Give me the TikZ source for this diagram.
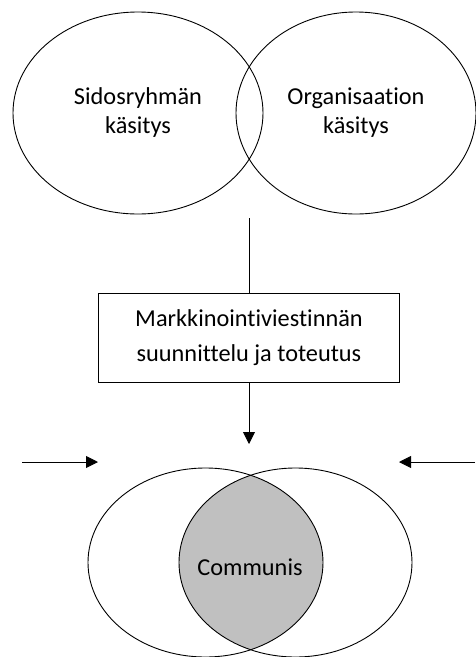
\documentclass[tikz,border=0pt]{standalone}
\usepackage{fontspec}
\setmainfont{Carlito}[Ligatures=NoCommon]
\usetikzlibrary{shapes.geometric,arrows.meta}
\definecolor{lens}{RGB}{192,192,192}

\begin{document}
\begin{tikzpicture}[
  x=1pt, y=-1pt,
  view/.style={draw, ellipse, line width=0.9pt, inner sep=0pt, align=center, font=\fontsize{24.3}{29}\selectfont},
  box/.style={draw, line width=0.9pt, minimum width=301pt, minimum height=89pt, align=center, font=\fontsize{24.3}{35}\selectfont},
  label/.style={font=\fontsize{24.3}{29}\selectfont},
  arrow/.style={-{Triangle[length=12pt,width=12pt]}, line width=0.9pt}
]
\useasboundingbox (0,0) rectangle (475,657);

\node[view, minimum width=250pt, minimum height=202pt] (sid) at (138,113) {Sidosryhmän\\käsitys};
\node[view, minimum width=240pt, minimum height=202pt] (org) at (356,113) {Organisaation\\käsitys};

\node[box] (mv) at (249,337.5) {Markkinointiviestinnän\\suunnittelu ja toteutus};

\begin{scope}
  \clip (205.5,562.5) ellipse [x radius=117.5pt, y radius=94.5pt];
  \fill[lens] (295.5,562.5) ellipse [x radius=116.5pt, y radius=94.5pt];
\end{scope}
\node[view, minimum width=235pt, minimum height=189pt] (left) at (205.5,562.5) {};
\node[view, minimum width=233pt, minimum height=189pt] (right) at (295.5,562.5) {};
\node[label] (com) at (250,567) {Communis};

\coordinate (top) at (249,218);
\coordinate (down) at (249,444);
\coordinate (w0) at (22,462);
\coordinate (w1) at (98,462);
\coordinate (e0) at (475,462);
\coordinate (e1) at (399,462);

\draw[line width=0.9pt] (top) -- (mv.north);
\draw[arrow] (mv.south) -- (down);
\draw[arrow] (w0) -- (w1);
\draw[arrow] (e0) -- (e1);
\end{tikzpicture}
\end{document}
